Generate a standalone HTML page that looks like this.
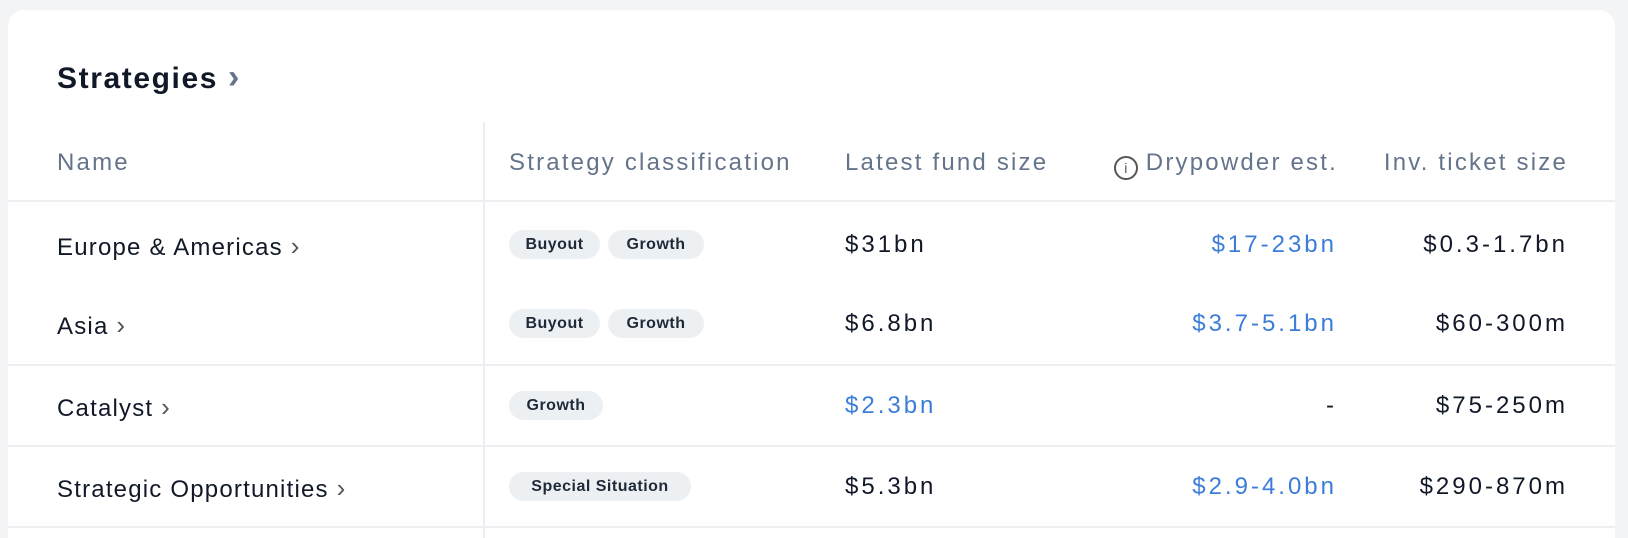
<!DOCTYPE html>
<html><head><meta charset="utf-8"><style>
html,body{margin:0;padding:0;width:1628px;height:538px;overflow:hidden;}
body{background:#f3f4f6;position:relative;font-family:"Liberation Sans",sans-serif;}
.card{position:absolute;left:8px;top:10px;width:1607px;height:528px;background:#fff;border-radius:16px 16px 0 0;}
.t{position:absolute;white-space:nowrap;line-height:1;}
.h{font-size:24px;color:#64748b;letter-spacing:2.2px;}
.c{font-size:24px;color:#111827;letter-spacing:1.2px;}
.n{letter-spacing:3px;}
.b{color:#3b7dd8;}
.r{text-align:right;}
.pill{position:absolute;height:29px;line-height:29px;background:#edf0f3;border-radius:15px;font-size:16px;font-weight:bold;color:#1f2937;text-align:center;letter-spacing:0.5px;}
.hl{position:absolute;left:8px;width:1607px;height:2px;background:#eceef1;}
.chev{color:#555;font-size:26px;letter-spacing:0;}
</style></head><body>
<div class="card"></div>
<div class="t" style="left:57px;top:60px;font-size:30px;font-weight:bold;color:#111827;letter-spacing:1.6px;">Strategies <span style="color:#64748b;font-size:34px;">›</span></div>
<div style="position:absolute;left:483px;top:122px;width:2px;height:416px;background:#eceef1;"></div>
<div class="t h" style="left:57px;top:151px;">Name</div>
<div class="t h" style="left:509px;top:151px;">Strategy classification</div>
<div class="t h" style="left:845px;top:151px;">Latest fund size</div>
<div class="t h r" style="right:290px;top:151px;"><span style="display:inline-block;width:24px;height:24px;border:2px solid #555;border-radius:50%;box-sizing:border-box;font-size:14px;line-height:20px;text-align:center;color:#555;vertical-align:-3px;margin-right:8px;letter-spacing:0;">i</span>Drypowder est.</div>
<div class="t h r" style="right:60px;top:151px;">Inv. ticket size</div>
<div class="hl" style="top:200px;"></div>
<div class="hl" style="top:364px;"></div>
<div class="hl" style="top:445px;"></div>
<div class="hl" style="top:526px;"></div>

<div class="t c" style="left:57px;top:233px;">Europe &amp; Americas <span class="chev">›</span></div>
<div class="pill" style="left:509px;top:230px;width:91px;">Buyout</div>
<div class="pill" style="left:608px;top:230px;width:96px;">Growth</div>
<div class="t c n" style="left:845px;top:233px;">$31bn</div>
<div class="t c n b r" style="right:291px;top:233px;">$17-23bn</div>
<div class="t c n r" style="right:60px;top:233px;">$0.3-1.7bn</div>

<div class="t c" style="left:57px;top:312px;">Asia <span class="chev">›</span></div>
<div class="pill" style="left:509px;top:309px;width:91px;">Buyout</div>
<div class="pill" style="left:608px;top:309px;width:96px;">Growth</div>
<div class="t c n" style="left:845px;top:312px;">$6.8bn</div>
<div class="t c n b r" style="right:291px;top:312px;">$3.7-5.1bn</div>
<div class="t c n r" style="right:60px;top:312px;">$60-300m</div>

<div class="t c" style="left:57px;top:394px;">Catalyst <span class="chev">›</span></div>
<div class="pill" style="left:509px;top:391px;width:94px;">Growth</div>
<div class="t c n b" style="left:845px;top:394px;">$2.3bn</div>
<div class="t c n r" style="right:291px;top:394px;">-</div>
<div class="t c n r" style="right:60px;top:394px;">$75-250m</div>

<div class="t c" style="left:57px;top:475px;">Strategic Opportunities <span class="chev">›</span></div>
<div class="pill" style="left:509px;top:472px;width:182px;">Special Situation</div>
<div class="t c n" style="left:845px;top:475px;">$5.3bn</div>
<div class="t c n b r" style="right:291px;top:475px;">$2.9-4.0bn</div>
<div class="t c n r" style="right:60px;top:475px;">$290-870m</div>
</body></html>
